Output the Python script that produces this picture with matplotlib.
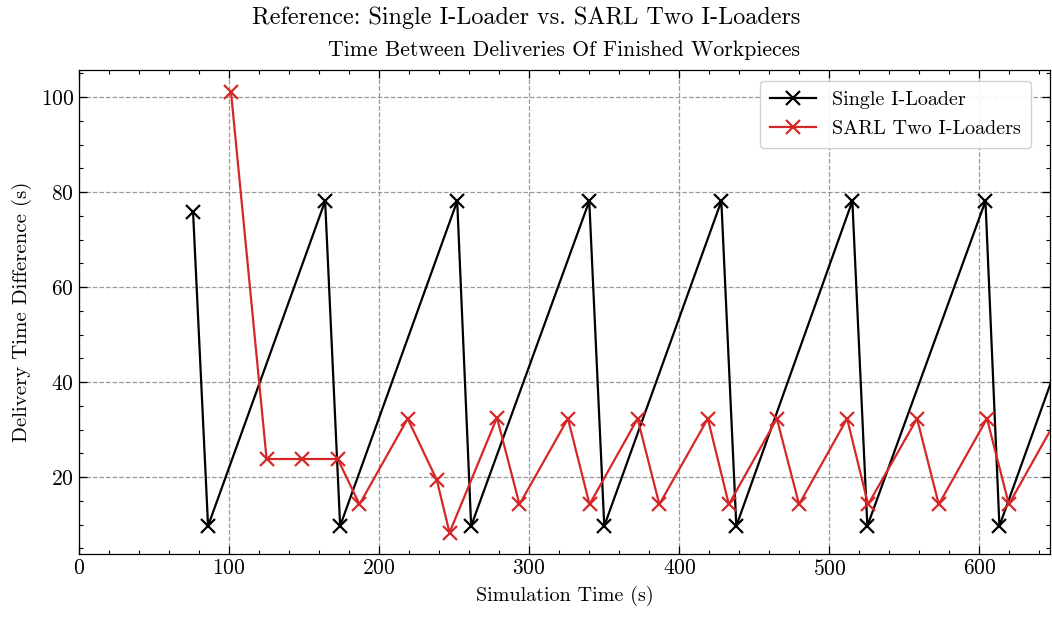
import matplotlib
matplotlib.use("Agg")
import matplotlib.pyplot as plt
from matplotlib.ticker import MultipleLocator

# Data
single_t = [76, 86, 164, 174, 252, 261.3, 340, 350, 428, 438, 515.3, 525.3, 604, 613.3, 691]
single_d = [75.8, 9.7, 78.1, 9.7, 78.1, 9.7, 78.1, 9.7, 78.1, 9.7, 78.1, 9.7, 78.1, 9.7, 78.1]

sarl_t = [101.3, 125, 148.9, 172.4, 186.9, 219, 238.4, 246.9, 278.5, 293.5, 325.8, 340.2,
          372.2, 386.7, 419, 433, 465, 479.8, 511.8, 525.8, 558.4, 572.9, 605, 619.6, 651.6]
sarl_d = [101.0, 23.8, 23.8, 23.8, 14.25, 32.3, 19.4, 8.3, 32.5, 14.25, 32.3, 14.25,
          32.3, 14.25, 32.3, 14.25, 32.3, 14.25, 32.3, 14.25, 32.3, 14.25, 32.3, 14.25, 32.3]

plt.rcParams['font.family'] = ['cmr10', 'DejaVu Serif']
plt.rcParams['axes.formatter.use_mathtext'] = True
plt.rcParams['mathtext.fontset'] = 'cm'

fig = plt.figure(figsize=(10.52, 6.17), dpi=100)
ax = fig.add_axes([79/1052, 1-554/617, (1050-79)/1052, (554-70)/617])

ax.plot(single_t, single_d, color='black', marker='x', markersize=10, mew=1.6, lw=1.6,
        label='Single I-Loader')
ax.plot(sarl_t, sarl_d, color='#d62728', marker='x', markersize=10, mew=1.6, lw=1.6,
        label='SARL Two I-Loaders')

ax.set_xlim(0, 647)
ax.set_ylim(3.8, 105.7)
ax.xaxis.set_major_locator(MultipleLocator(100))
ax.xaxis.set_minor_locator(MultipleLocator(20))
ax.yaxis.set_major_locator(MultipleLocator(20))
ax.yaxis.set_minor_locator(MultipleLocator(5))
ax.tick_params(which='both', direction='in', top=True, right=True, labelsize=15.5)
ax.tick_params(which='major', length=6, width=0.9)
ax.tick_params(which='minor', length=3, width=0.8)
for s in ax.spines.values():
    s.set_linewidth(0.9)
ax.grid(True, which='major', linestyle='--', color='gray', linewidth=0.9, alpha=0.8)

ax.set_xlabel('Simulation Time (s)', fontsize=14.5, labelpad=5)
ax.set_ylabel('Delivery Time Difference (s)', fontsize=15, labelpad=6)
ax.set_title('Time Between Deliveries Of Finished Workpieces', fontsize=15.7, pad=10)
fig.suptitle('Reference: Single I-Loader vs. SARL Two I-Loaders', fontsize=17.4, y=0.99)

leg = ax.legend(loc='upper right', fontsize=14.5, frameon=True, fancybox=True,
                edgecolor='#cccccc', framealpha=0.9, handlelength=2.3,
                labelspacing=0.55, borderpad=0.5, bbox_to_anchor=(0.991, 0.999))

fig.savefig('out.png', dpi=100)
